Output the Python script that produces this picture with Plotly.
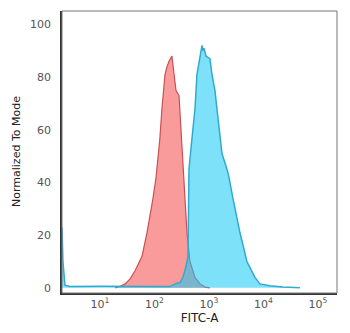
import plotly.graph_objects as go

# Isotype control (red) histogram: FITC-A intensity vs % normalized to mode
red_x = [19, 23, 29, 36, 44, 59, 73, 83, 94, 107, 116, 126, 137, 156, 170, 185, 209, 228, 248, 282, 306, 333, 363, 395, 448, 554, 684, 845, 1040]
red_y = [0, 0.5, 1.5, 3.5, 6.5, 12, 21, 27, 34, 42, 49, 57, 68, 81, 84, 86, 88, 80, 75, 73, 60, 48, 34, 21, 10, 4, 1.5, 0.3, 0]

# Antibody-stained (blue) histogram
blue_x = [2.01, 2.09, 2.28, 2.82, 10, 35, 192, 238, 294, 333, 378, 412, 421, 430, 468, 509, 554, 602, 656, 714, 744, 777, 810, 881, 1043, 1135, 1288, 1402, 1592, 1733, 2000, 2280, 2757, 3704, 4977, 6983, 8630, 13160, 22800, 46800]
blue_y = [23, 10, 1, 0.5, 0.6, 0.5, 0.5, 1.5, 2, 4, 8, 12, 30, 45, 53, 60, 68, 81, 86, 90, 92, 90, 91, 88, 87, 81, 75, 68, 58, 51, 47, 43, 34, 21, 10, 4, 1.5, 0.8, 0.3, 0]

y_ticks = [0, 20, 40, 60, 80, 100]
x_ticks = [10, 100, 1000, 10000, 100000]
x_ticktext = ["10<sup>1</sup>", "10<sup>2</sup>", "10<sup>3</sup>", "10<sup>4</sup>", "10<sup>5</sup>"]

fig = go.Figure()
fig.add_trace(go.Scatter(
    x=red_x, y=red_y, mode="lines", fill="tozeroy",
    fillcolor="rgb(250,155,155)",
    line=dict(color="rgb(200,80,85)", width=1.2),
    showlegend=False,
))
fig.add_trace(go.Scatter(
    x=blue_x, y=blue_y, mode="lines", fill="tozeroy",
    fillcolor="rgba(19,200,246,0.55)",
    line=dict(color="rgb(50,170,205)", width=1.5),
    showlegend=False,
))

# page body has an 8px default margin, so the figure is sized 342x325
fig.update_layout(
    width=342, height=325,
    margin=dict(l=54, r=13, t=3, b=40),
    paper_bgcolor="white", plot_bgcolor="white",
    font=dict(family="DejaVu Sans", size=11, color="#555"),
    xaxis=dict(
        type="log", range=[0.303, 5.35], automargin=False,
        tickvals=x_ticks, ticktext=x_ticktext,
        showgrid=False, zeroline=False,
        showline=True, linecolor="#333", linewidth=1.5,
        ticks="", ticklabelstandoff=0,
        title=dict(text="FITC-A", font=dict(size=12, color="#222"), standoff=4),
    ),
    yaxis=dict(
        range=[-1.95, 105.1], automargin=False,
        tickvals=y_ticks,
        showgrid=False, zeroline=False,
        showline=True, linecolor="#333", linewidth=1.5,
        ticks="", ticklabelstandoff=7,
    ),
    annotations=[dict(text="Normalized To Mode", xref="paper", yref="paper",
                      x=0, y=0.5, xanchor="center", yanchor="middle",
                      xshift=-46, textangle=-90, showarrow=False,
                      font=dict(size=11, color="#222"))],
    shapes=[dict(type="rect", xref="paper", yref="paper", x0=0, x1=1, y0=0, y1=1,
                 line=dict(color="#777", width=1), layer="above")],
)

fig.write_html("out.html")
